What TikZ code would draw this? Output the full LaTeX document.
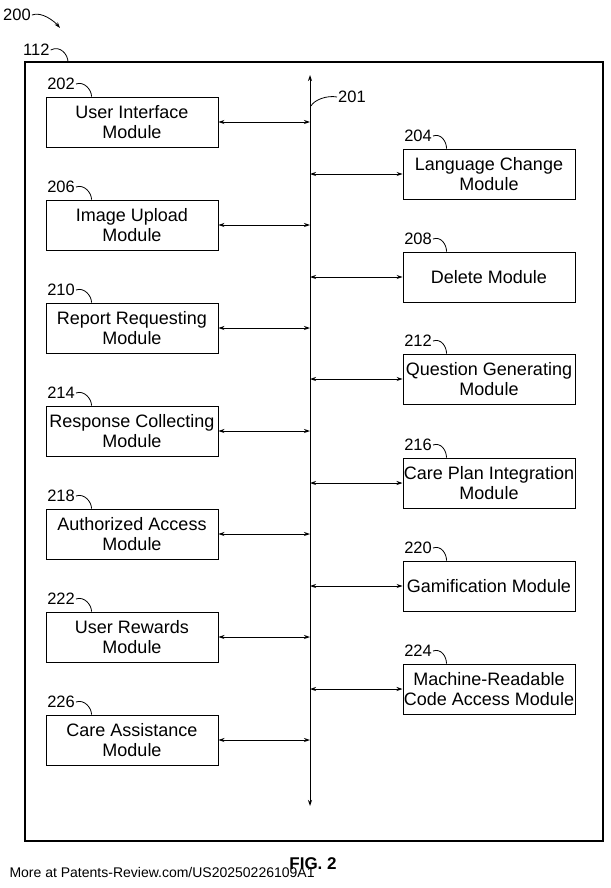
\documentclass[tikz,border=0pt]{standalone}
\usepackage{fontspec}
\setmainfont{Liberation Sans}
\usetikzlibrary{arrows.meta}
\begin{document}
\begin{tikzpicture}[x=1pt,y=-1pt,
  mod/.style={draw,line width=0.9pt,minimum width=172pt,minimum height=50pt,align=center,inner sep=1pt,font=\fontsize{18}{20.5}\selectfont},
  lbl/.style={font=\fontsize{16.5}{18}\selectfont,inner sep=1pt},
  conn/.style={line width=0.9pt,{Stealth[length=6pt,width=4pt]}-{Stealth[length=6pt,width=4pt]}},
  lead/.style={line width=0.8pt}]
\useasboundingbox (0,0) rectangle (610,888);
\draw[line width=1.2pt] (25,62) rectangle (603,841);
\coordinate (bt) at (310,75); \coordinate (bb) at (310,806);
\draw[conn] (bt) -- (bb);
% left
\foreach \n/\y/\t in {202/122/{User Interface\\Module},206/225/{Image Upload\\Module},210/328/{Report Requesting\\Module},214/431/{Response Collecting\\Module},218/534/{Authorized Access\\Module},222/637/{User Rewards\\Module},226/740/{Care Assistance\\Module}}{
  \node[mod] (m\n) at (132,\y) {\t};
  \coordinate (b\n) at (310,\y);
  \draw[conn] (m\n.east) -- (b\n);
  \node[lbl,anchor=east] (l\n) at (76,\y-38) {\n};
  \draw[lead] (l\n.east) .. controls ++(8,-3) and ++(0,-7) .. ([xshift=46pt]m\n.north west);
}
% right
\foreach \n/\y/\t in {204/174/{Language Change\\Module},208/277/{Delete Module},212/379/{Question Generating\\Module},216/483/{Care Plan Integration\\Module},220/586/{Gamification Module},224/689/{Machine-Readable\\Code Access Module}}{
  \node[mod] (m\n) at (489,\y) {\t};
  \coordinate (b\n) at (310,\y);
  \draw[conn] (b\n) -- (m\n.west);
  \node[lbl,anchor=east] (l\n) at (433,\y-38) {\n};
  \draw[lead] (l\n.east) .. controls ++(8,-3) and ++(0,-7) .. ([xshift=44pt]m\n.north west);
}
\node[lbl,anchor=west] (l201) at (337,97) {201};
\coordinate (c201) at (311,106);
\draw[lead] (l201.west) .. controls ++(-10,-2) and ++(3,-6) .. (c201);
\node[lbl,anchor=west] (l112) at (22,50) {112};
\coordinate (c112) at (68,62);
\draw[lead] (l112.east) .. controls ++(10,-5) and ++(0,-7) .. (c112);
\node[lbl,anchor=west] (l200) at (2,15) {200};
\coordinate (c200) at (60,28);
\draw[lead,-{Stealth[length=6pt,width=4pt]}] (l200.east) .. controls ++(10,-4) and ++(-5,-6) .. (c200);
\node[font=\bfseries\fontsize{17}{19}\selectfont] (fig) at (313,864) {FIG. 2};
\node[font=\fontsize{14}{16}\selectfont,anchor=west] (wm) at (6,872) {More at Patents-Review.com/US20250226109A1};
\end{tikzpicture}
\end{document}
